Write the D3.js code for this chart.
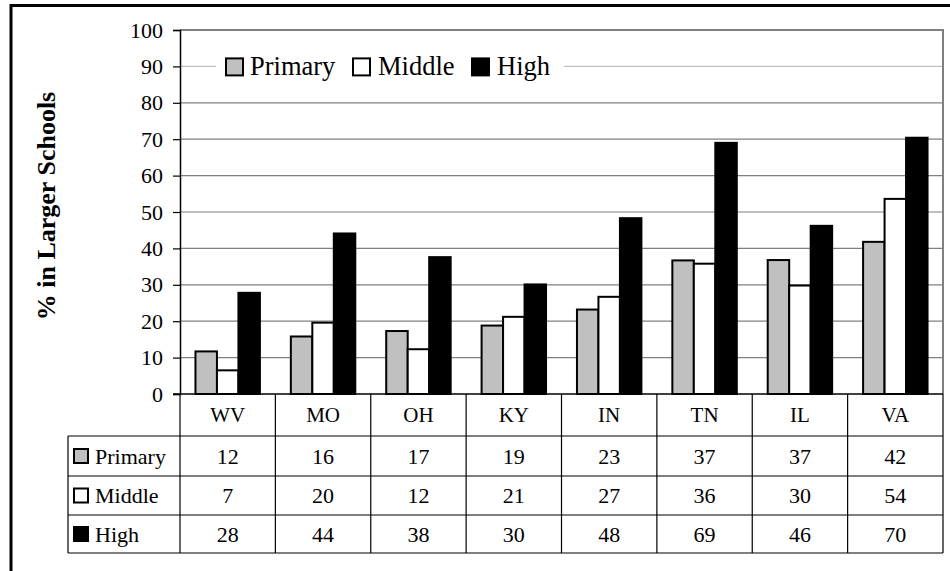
<!DOCTYPE html>
<html>
<head>
<meta charset="utf-8">
<script src="https://cdn.jsdelivr.net/npm/d3@7"></script>
<style>
  html, body { margin: 0; padding: 0; background: #fff; }
  svg { display: block; }
  svg text { font-family: "Liberation Serif", "Times New Roman", Times, serif !important; fill: #000; }
</style>
</head>
<body>
<svg id="chart" width="950" height="571"></svg>
<script>
// ---- data ----
const categories = ["WV", "MO", "OH", "KY", "IN", "TN", "IL", "VA"];
const seriesNames = ["Primary", "Middle", "High"];
const primaryValues = [11.7, 15.8, 17.3, 18.8, 23.2, 36.7, 36.8, 41.8];
const middleValues  = [6.5, 19.6, 12.3, 21.2, 26.7, 35.8, 29.8, 53.6];
const highValues    = [27.8, 44.1, 37.6, 30.1, 48.3, 69.0, 46.2, 70.4];
const yTicks = [0, 10, 20, 30, 40, 50, 60, 70, 80, 90, 100];
const yTitle = "% in Larger Schools";

const seriesValues = { Primary: primaryValues, Middle: middleValues, High: highValues };
const seriesFill = { Primary: "#c0c0c0", Middle: "#ffffff", High: "#000000" };

const FONT = "Liberation Serif, Times New Roman, serif";
const svg = d3.select("#chart").attr("font-family", FONT);
const W = 950, H = 571;
const plot = { left: 180, right: 943, top: 30, bottom: 394 };
const tableLeft = 68;
const rowLines = [394, 436, 476, 515, 553];

// outer frame
svg.append("rect").attr("x", 11).attr("y", 5.5).attr("width", W + 20).attr("height", H + 20)
  .attr("fill", "#fff").attr("stroke", "#000").attr("stroke-width", 3);

const x0 = d3.scaleBand().domain(categories).range([plot.left, plot.right]).paddingInner(0).paddingOuter(0);
const x1 = d3.scaleBand().domain(seriesNames).range([0, x0.bandwidth()]).paddingInner(0).paddingOuter(0.72);
const y = d3.scaleLinear().domain([0, 100]).range([plot.bottom, plot.top]);

// gridlines
svg.append("g").selectAll("line").data(yTicks.filter(t => t > 0 && t < 100)).join("line")
  .attr("x1", plot.left).attr("x2", plot.right)
  .attr("y1", d => y(d)).attr("y2", d => y(d))
  .attr("stroke", d => d === 90 ? "#c0c0c0" : "#808080").attr("stroke-width", 1.2);

// plot border top/right
svg.append("path")
  .attr("d", `M${plot.left},${y(100)}H${plot.right}V${plot.bottom}`)
  .attr("fill", "none").attr("stroke", "#808080").attr("stroke-width", 2);

// bars
const groups = svg.append("g").selectAll("g").data(categories).join("g")
  .attr("transform", d => `translate(${x0(d)},0)`);
groups.selectAll("rect").data((c, i) => seriesNames.map(s => ({ s, v: seriesValues[s][i] }))).join("rect")
  .attr("x", d => x1(d.s))
  .attr("y", d => y(d.v))
  .attr("width", x1.bandwidth())
  .attr("height", d => y(0) - y(d.v))
  .attr("fill", d => seriesFill[d.s])
  .attr("stroke", "#000").attr("stroke-width", 2);

// y axis
const yAxis = svg.append("g").attr("transform", `translate(${plot.left},0)`)
  .call(d3.axisLeft(y).tickValues(yTicks).tickSize(7).tickPadding(10).tickFormat(d3.format("d")));
yAxis.attr("font-family", FONT);
yAxis.select(".domain").attr("stroke", "#000").attr("stroke-width", 1.5);
yAxis.selectAll(".tick line").attr("stroke", "#000").attr("stroke-width", 1.2);
yAxis.selectAll(".tick text").attr("font-size", 22).attr("fill", "#000");

// y title
svg.append("text").attr("transform", `translate(46,206) rotate(-90)`)
  .attr("text-anchor", "middle").attr("dominant-baseline", "central")
  .attr("font-size", 26).attr("font-weight", "bold").text(yTitle);

// legend
const legendItems = [
  { s: "Primary", sx: 226, tx: 250 },
  { s: "Middle", sx: 353, tx: 378 },
  { s: "High", sx: 472, tx: 497 }
];
const legY = y(90);
svg.append("rect").attr("x", 216).attr("y", legY - 15).attr("width", 348).attr("height", 30).attr("fill", "#fff");
const lg = svg.append("g").selectAll("g").data(legendItems).join("g");
lg.append("rect").attr("x", d => d.sx).attr("y", legY - 8).attr("width", 17).attr("height", 17)
  .attr("fill", d => seriesFill[d.s]).attr("stroke", "#000").attr("stroke-width", 2);
lg.append("text").attr("x", d => d.tx).attr("y", legY + 9)
  .attr("font-size", 26.5).text(d => d.s);

// x axis line
svg.append("line").attr("x1", plot.left - 7).attr("x2", plot.right)
  .attr("y1", plot.bottom).attr("y2", plot.bottom).attr("stroke", "#000").attr("stroke-width", 1.5);

// data table
const tbl = svg.append("g");
tbl.selectAll("line.h").data(rowLines.slice(1)).join("line").attr("class", "h")
  .attr("x1", tableLeft).attr("x2", plot.right).attr("y1", d => d).attr("y2", d => d)
  .attr("stroke", "#000").attr("stroke-width", 1.2);
const colEdges = categories.map(c => x0(c)).concat([plot.right]);
tbl.selectAll("line.v").data(colEdges).join("line").attr("class", "v")
  .attr("x1", d => d).attr("x2", d => d).attr("y1", rowLines[0]).attr("y2", rowLines[4])
  .attr("stroke", "#000").attr("stroke-width", 1.2);
tbl.append("line").attr("x1", tableLeft).attr("x2", tableLeft).attr("y1", rowLines[1]).attr("y2", rowLines[4])
  .attr("stroke", "#000").attr("stroke-width", 1.2);

tbl.selectAll("text.cat").data(categories).join("text").attr("class", "cat")
  .attr("x", d => x0(d) + x0.bandwidth() / 2).attr("y", (rowLines[0] + rowLines[1]) / 2)
  .attr("text-anchor", "middle").attr("dominant-baseline", "central")
  .attr("font-size", 21).text(d => d);

seriesNames.forEach((s, r) => {
  const cy = (rowLines[r + 1] + rowLines[r + 2]) / 2;
  tbl.append("rect").attr("x", 74).attr("y", cy - 7).attr("width", 14).attr("height", 14)
    .attr("fill", seriesFill[s]).attr("stroke", "#000").attr("stroke-width", 2);
  tbl.append("text").attr("x", 95).attr("y", cy).attr("dominant-baseline", "central")
    .attr("font-size", 22).text(s);
  tbl.selectAll(null).data(categories).join("text")
    .attr("x", d => x0(d) + x0.bandwidth() / 2).attr("y", cy)
    .attr("text-anchor", "middle").attr("dominant-baseline", "central")
    .attr("font-size", 22).text((d, i) => Math.round(seriesValues[s][i]));
});
</script>
</body>
</html>
